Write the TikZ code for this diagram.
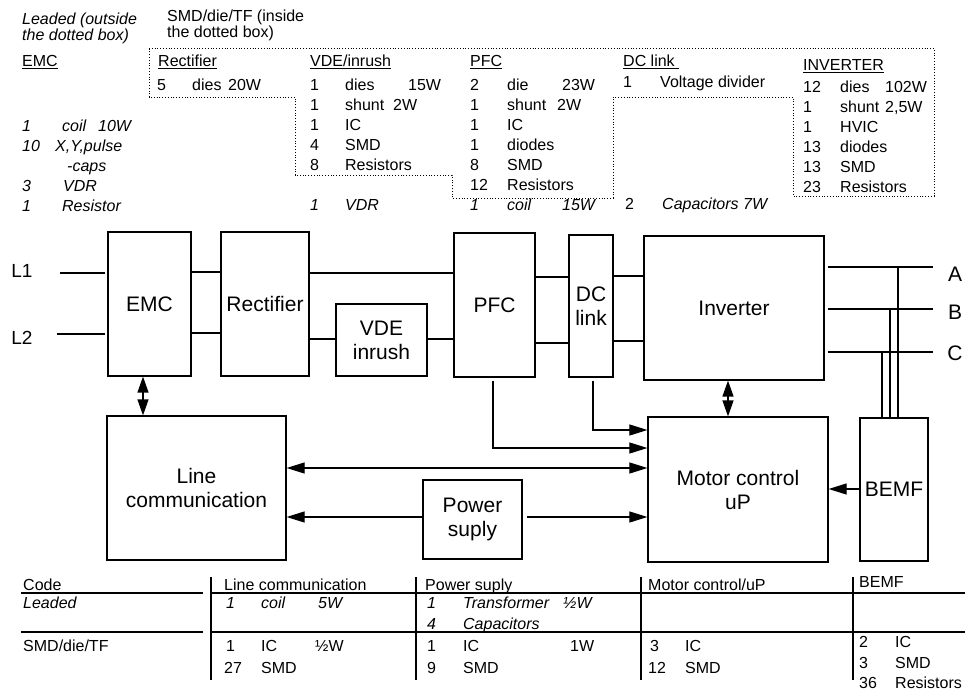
\documentclass[tikz,border=0pt]{standalone}
\usepackage{fontspec}
\setmainfont{Liberation Sans}
\usetikzlibrary{arrows.meta}
\newcommand{\cl}[2]{\makebox[#1pt][l]{#2}}
\newcommand{\smf}{\fontsize{16}{19}\selectfont}
\newcommand{\bgf}{\fontsize{21}{24}\selectfont}
\begin{document}
\begin{tikzpicture}[x=1pt,y=-1pt,
  blk/.style={draw, line width=1.25pt, inner sep=0pt, align=center, font=\bgf},
  lbl/.style={inner sep=0pt, font=\bgf},
  t/.style={anchor=base west, inner sep=0pt, font=\smf},
  ti/.style={anchor=base west, inner sep=0pt, font=\smf\itshape},
  conn/.style={line width=1.7pt},
  thinl/.style={line width=1.1pt},
  sig/.style={line width=1.1pt, -{Triangle[length=18pt,width=11pt]}},
  sigb/.style={line width=1.1pt, {Triangle[length=18pt,width=11pt]}-{Triangle[length=18pt,width=11pt]}},
  dbl/.style={line width=1.3pt, {Triangle[length=16pt,width=11pt]}-{Triangle[length=16pt,width=11pt]}},
  dotbox/.style={line width=0.9pt, dash pattern=on 1pt off 1.8pt},
  tab/.style={line width=1.3pt}]
\useasboundingbox (0,0) rectangle (965,692);

% ---------- header texts ----------
\node[ti] (h1a) at (22,25) {Leaded (outside};
\node[ti] (h1b) at (22,41) {the dotted box)};
\node[t] (h2a) at (167,22) {SMD/die/TF (inside};
\node[t] (h2b) at (167,38) {the dotted box)};

% dotted region
\draw[dotbox] (149,48) -- (934,48) -- (934,196) -- (793,196) -- (793,97) -- (613,97)
  -- (613,198) -- (452,198) -- (452,175) -- (295,175) -- (295,97) -- (149,97) -- cycle;

% EMC list
\node[t] (emch) at (22,67) {\underline{EMC}};
\node[ti] (e1) at (22,132) {\cl{40}{1}\cl{36}{coil}10W};
\node[ti] (e2) at (22,152) {\cl{33}{10}X,Y,pulse};
\node[ti] (e3) at (67,172) {-caps};
\node[ti] (e4) at (22,192) {\cl{41}{3}VDR};
\node[ti] (e5) at (22,212) {\cl{40}{1}Resistor};

% Rectifier list
\node[t] (rh) at (158,67) {\underline{Rectifier}};
\node[t] (r1) at (157,91) {\cl{35}{5}\cl{36}{dies}20W};

% VDE list
\node[t] (vh) at (310,67) {\underline{VDE/inrush}};
\node[t] (v1) at (310,91) {\cl{35}{1}\cl{63}{dies}15W};
\node[t] (v2) at (310,111) {\cl{35}{1}\cl{48}{shunt}2W};
\node[t] (v3) at (310,131) {\cl{35}{1}IC};
\node[t] (v4) at (310,151) {\cl{35}{4}SMD};
\node[t] (v5) at (310,171) {\cl{35}{8}Resistors};
\node[ti] (v6) at (310,211) {\cl{35}{1}VDR};

% PFC list
\node[t] (ph) at (470,67) {\underline{PFC}};
\node[t] (p1) at (470,91) {\cl{37}{2}\cl{55}{die}23W};
\node[t] (p2) at (470,111) {\cl{37}{1}\cl{50}{shunt}2W};
\node[t] (p3) at (470,131) {\cl{37}{1}IC};
\node[t] (p4) at (470,151) {\cl{37}{1}diodes};
\node[t] (p5) at (470,171) {\cl{37}{8}SMD};
\node[t] (p6) at (470,191) {\cl{37}{12}Resistors};
\node[ti] (p7) at (470,211) {\cl{37}{1}\cl{55}{coil}15W};

% DC link list
\node[t] (dh) at (623,67) {\underline{DC link\ }};
\node[t] (d1) at (623,88) {\cl{37}{1}Voltage divider};
\node[t] (d2) at (625,210) {\cl{37}{2}\textit{Capacitors 7W}};

% Inverter list
\node[t] (ih) at (803,71) {\underline{INVERTER}};
\node[t] (i1) at (803,93) {\cl{37}{12}\cl{45}{dies}102W};
\node[t] (i2) at (803,113) {\cl{37}{1}\cl{45}{shunt}2,5W};
\node[t] (i3) at (803,133) {\cl{37}{1}HVIC};
\node[t] (i4) at (803,153) {\cl{37}{13}diodes};
\node[t] (i5) at (803,173) {\cl{37}{13}SMD};
\node[t] (i6) at (803,193) {\cl{37}{23}Resistors};

% ---------- blocks ----------
\node[blk, minimum width=83pt, minimum height=144pt] (emc) at (149.5,304) {EMC};
\node[blk, minimum width=88pt, minimum height=144pt] (rect) at (265,304) {Rectifier};
\node[blk, minimum width=91pt, minimum height=72pt] (vde) at (381.5,340) {VDE\\inrush};
\node[blk, minimum width=81pt, minimum height=144pt] (pfc) at (494.5,305) {PFC};
\node[blk, minimum width=44pt, minimum height=142pt] (dcl) at (591,306) {DC\\link};
\node[blk, minimum width=180pt, minimum height=144pt] (inv) at (734,308) {Inverter};
\node[blk, minimum width=180pt, minimum height=145pt] (mot) at (738,489.5) {Motor control\\uP};
\node[blk, minimum width=68pt, minimum height=143pt] (bemf) at (894,489.5) {BEMF};
\node[blk, minimum width=179pt, minimum height=144pt] (lc) at (196.5,488) {Line\\communication};
\node[blk, minimum width=99pt, minimum height=79pt] (ps) at (472.5,519.5) {Power\\suply};

\node[lbl, font=\fontsize{19}{22}\selectfont] (l1) at (22,271) {L1};
\node[lbl, font=\fontsize{19}{22}\selectfont] (l2) at (22,338) {L2};
\node[lbl] (oa) at (955,274) {A};
\node[lbl] (ob) at (955,312) {B};
\node[lbl] (oc) at (955,353) {C};

% ---------- connectors ----------
\coordinate (l1s) at (60,273);
\coordinate (l2s) at (57,334);
\draw[conn, shorten >=2pt] (l1s) -- (emc.west |- l1s);
\draw[conn, shorten >=2pt] (l2s) -- (emc.west |- l2s);
\draw[conn] (emc.east |- 0,272) -- (rect.west |- 0,272);
\draw[conn] (emc.east |- 0,333) -- (rect.west |- 0,333);
\draw[conn] (rect.east |- 0,273) -- (pfc.west |- 0,273);
\draw[conn] (rect.east |- 0,339) -- (vde.west |- 0,339);
\draw[conn] (vde.east |- 0,339) -- (pfc.west |- 0,339);
\draw[conn] (pfc.east |- 0,277) -- (dcl.west |- 0,277);
\draw[conn] (pfc.east |- 0,343) -- (dcl.west |- 0,343);
\draw[conn] (dcl.east |- 0,276) -- (inv.west |- 0,276);
\draw[conn] (dcl.east |- 0,341) -- (inv.west |- 0,341);

\coordinate (aend) at (933,267);
\coordinate (bend) at (933,309);
\coordinate (cend) at (933,352);
\draw[conn, line width=1.5pt, shorten <=3pt] (inv.east |- aend) -- (aend);
\draw[conn, line width=1.5pt, shorten <=3pt] (inv.east |- bend) -- (bend);
\draw[conn, line width=1.5pt, shorten <=3pt] (inv.east |- cend) -- (cend);
\coordinate (va) at (898,267);
\coordinate (vb) at (890,309);
\coordinate (vc) at (882,353);
\draw[thinl] (va) -- (bemf.north -| va);
\draw[thinl] (vb) -- (bemf.north -| vb);
\draw[thinl] (vc) -- (bemf.north -| vc);

\coordinate (xd1) at (728,0);
\coordinate (xd2) at (143,0);
\draw[dbl] (inv.south -| xd1) -- (mot.north -| xd1);
\draw[dbl] (emc.south -| xd2) -- (lc.north -| xd2);

\coordinate (pm) at (493,448);
\coordinate (dm) at (593,430);
\draw[sig, shorten <=3pt] (pfc.south -| pm) |- (mot.west |- pm);
\draw[sig, shorten <=3pt] (dcl.south -| dm) |- (mot.west |- dm);
\draw[sigb] (lc.east |- 0,468) -- (mot.west |- 0,468);
\draw[sig] (ps.west |- 0,517) -- (lc.east |- 0,517);
\draw[sig, shorten <=4pt] (ps.east |- 0,517) -- (mot.west |- 0,517);
\draw[sig] (bemf.west |- 0,489) -- (mot.east |- 0,489);

% ---------- bottom table ----------
\draw[tab] (21,593) -- (203,593);
\draw[tab] (212,593) -- (965,593);
\draw[tab] (21,632) -- (203,632);
\draw[tab] (212,632) -- (965,632);
\draw[tab] (211,577) -- (211,680);
\draw[tab] (416,577) -- (416,680);
\draw[tab] (641,577) -- (641,680);
\draw[tab] (853,577) -- (853,680);

\node[t] (code) at (23,590) {Code};
\node[ti] (lead) at (23,608) {Leaded};
\node[t] (smd) at (23,651) {SMD/die/TF};

\node[t] (tlc) at (224,590) {Line communication};
\node[ti] (tlc1) at (226,608) {\cl{35}{1}\cl{57}{coil}5W};
\node[t] (tlc2) at (226,651) {\cl{35}{1}\cl{54}{IC}½W};
\node[t] (tlc3) at (224,673) {\cl{37}{27}SMD};

\node[t] (tps) at (425,590) {Power suply};
\node[ti] (tps1) at (427,608) {\cl{36}{1}\cl{100}{Transformer}½W};
\node[ti] (tps2) at (427,629) {\cl{36}{4}Capacitors};
\node[t] (tps3) at (427,651) {\cl{36}{1}\cl{107}{IC}1W};
\node[t] (tps4) at (427,673) {\cl{36}{9}SMD};

\node[t] (tmc) at (648,590) {Motor control/uP};
\node[t] (tmc1) at (650,651) {\cl{35}{3}IC};
\node[t] (tmc2) at (648,673) {\cl{37}{12}SMD};

\node[t] (tbe) at (859,587) {BEMF};
\node[t] (tbe1) at (859,647) {\cl{36}{2}IC};
\node[t] (tbe2) at (859,668) {\cl{36}{3}SMD};
\node[t] (tbe3) at (859,688) {\cl{36}{36}Resistors};
\end{tikzpicture}
\end{document}
